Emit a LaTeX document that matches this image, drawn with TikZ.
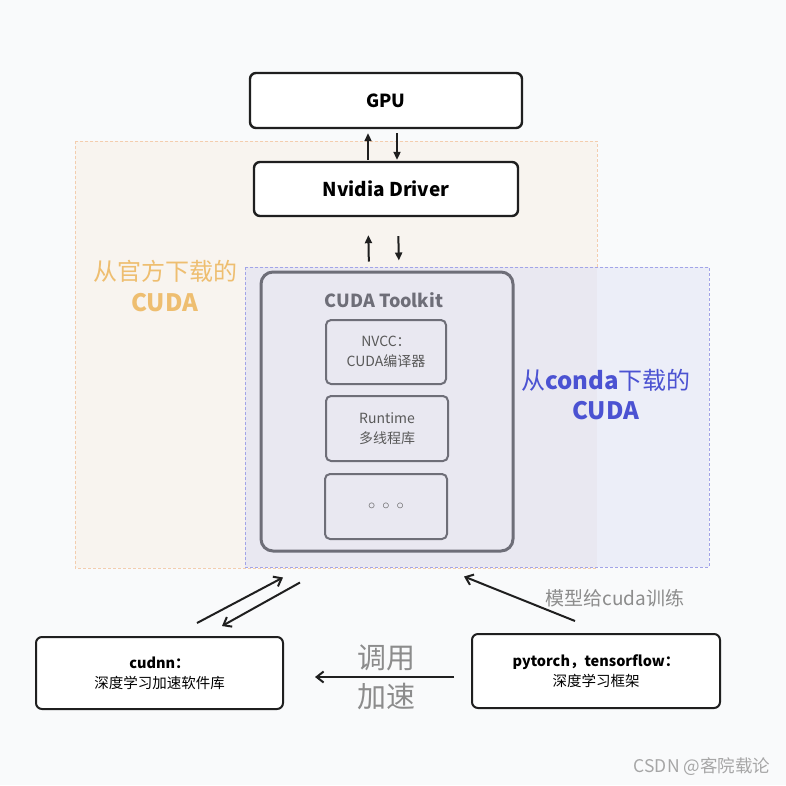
\documentclass[tikz,border=0pt]{standalone}
\usepackage{fontspec}
\setmainfont{Noto Sans CJK SC}
\usepackage{xcolor}
\usetikzlibrary{positioning, arrows.meta, calc}

\definecolor{bgcol}{HTML}{F9FAFB}
\definecolor{orfill}{HTML}{F8F4EF}
\definecolor{ordash}{HTML}{F3CDAE}
\definecolor{ortext}{HTML}{EEBE70}
\definecolor{blfill}{HTML}{ECEEF8}
\definecolor{mixfill}{HTML}{E9E8F1}
\definecolor{bldash}{HTML}{A2A4E8}
\definecolor{bltext}{HTML}{4B52D2}
\definecolor{tkgray}{HTML}{6E6E78}
\definecolor{lblgray}{HTML}{8C8C8C}

\tikzset{
  blackbox/.style={draw=black!88, line width=2.4pt, rounded corners=6pt, fill=white, align=center, inner sep=0pt},
  toolbox/.style={draw=tkgray, line width=3pt, rounded corners=12pt, inner sep=0pt},
  partbox/.style={draw=tkgray, line width=2pt, rounded corners=5pt, align=center, inner sep=0pt, text=black!65, font=\fontsize{14}{20}\selectfont},
  uparr/.style={-{Triangle[length=8pt,width=7pt]}, line width=2pt, draw=black!88},
  barb/.style={-{Straight Barb[length=7pt,width=11pt]}, line width=2pt, draw=black!88},
}

\begin{document}
\begin{tikzpicture}[x=1pt, y=-1pt]
  \fill[bgcol] (0,0) rectangle (786,785);
  \useasboundingbox (0,0) rectangle (786,785);

  % download regions
  \fill[orfill] (75,141) rectangle (597,568);
  \draw[ordash, line width=1pt, dash pattern=on 3pt off 2pt] (75,141) rectangle (597,568);
  \fill[blfill] (245,267) rectangle (709,567);
  \fill[mixfill] (245,267) rectangle (597,567);
  \draw[bldash, line width=1pt, dash pattern=on 3pt off 2pt] (245,267) rectangle (709,567);

  % top stack
  \node[blackbox, minimum width=272pt, minimum height=55pt, font=\bfseries\fontsize{18}{20}\selectfont] (gpu) at (386,100.5) {GPU};
  \node[blackbox, minimum width=264pt, minimum height=54pt, font=\bfseries\fontsize{19}{20}\selectfont] (drv) at (386,189) {Nvidia Driver};

  % toolkit
  \node[toolbox, minimum width=252pt, minimum height=279pt] (tk) at (387,411.5) {};
  \node[text=tkgray, font=\bfseries\fontsize{18}{20}\selectfont] (tktitle) at (384,300) {CUDA Toolkit};
  \node[partbox, minimum width=120pt, minimum height=64pt] (nvcc) at (386,352) {NVCC：\\CUDA编译器};
  \node[partbox, minimum width=122pt, minimum height=65pt] (rt) at (387,428.5) {Runtime\\多线程库};
  \node[partbox, minimum width=122pt, minimum height=65pt] (more) at (386,506.5) {$\circ$\hspace{7pt}$\circ$\hspace{7pt}$\circ$};

  \node[text=ortext, align=center, font=\fontsize{24}{31}\selectfont] (offlbl) at (165,286.5) {从官方下载的\\\textbf{CUDA}};
  \node[text=bltext, align=center, font=\fontsize{24}{30}\selectfont] (condalbl) at (606,395) {从\textbf{conda}下载的\\\textbf{CUDA}};

  % libraries
  \node[blackbox, line width=2pt, minimum width=247pt, minimum height=72pt, font=\fontsize{14.5}{20}\selectfont] (cudnn) at (159.5,673) {\textbf{cudnn：}\\深度学习加速软件库};
  \node[blackbox, line width=2pt, minimum width=248pt, minimum height=74pt, font=\fontsize{14.5}{20}\selectfont] (torch) at (596,671) {\textbf{pytorch，tensorflow：}\\深度学习框架};

  \draw[uparr, shorten <=1pt, shorten >=4pt] ([xshift=-18pt]drv.north) -- ([xshift=-18pt]gpu.south);
  \draw[uparr, shorten <=4pt, shorten >=1pt] ([xshift=11pt]gpu.south) -- ([xshift=11pt]drv.north);
  \draw[uparr, shorten <=9pt, shorten >=18pt] ([xshift=-18pt]tk.north) -- ([xshift=-18pt]drv.south);
  \draw[uparr, shorten <=19pt, shorten >=10pt] ([xshift=12pt]drv.south) -- ([xshift=12pt]tk.north);

  \draw[barb] ($(cudnn.north)+(37.5,-13)$) -- ($(tk.south)+(-104,25)$);
  \draw[barb] ($(tk.south)+(-87,30)$) -- ($(cudnn.north)+(62.5,-10)$);
  \draw[barb] ($(torch.north)+(-21,-12)$) -- ($(tk.south)+(77,24)$);
  \draw[barb] ($(torch.west)+(-17,6)$) -- ($(cudnn.east)+(31,4)$);

  \node[text=lblgray, font=\fontsize{19}{20}\selectfont] (trainlbl) at (615,598) {模型给cuda训练};
  \node[text=lblgray, align=center, font=\fontsize{29}{39}\selectfont] (calllbl) at (386,677.5) {调用\\加速};
  \node[text=black!35, font=\fontsize{17.5}{18}\selectfont] (mark) at (702,767) {CSDN @客院载论};
\end{tikzpicture}
\end{document}
